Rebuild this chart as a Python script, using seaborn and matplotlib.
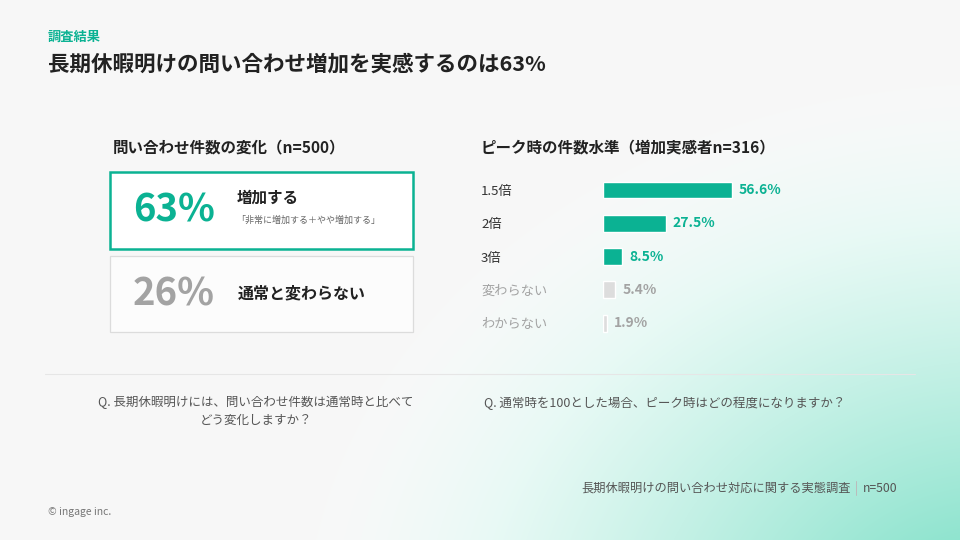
import numpy as np
import pandas as pd
import matplotlib
matplotlib.use('Agg')
import matplotlib.pyplot as plt
from matplotlib.patches import Rectangle
import seaborn as sns

# Data
levels = ['1.5倍', '2倍', '3倍', '変わらない', 'わからない']
shares = [56.6, 27.5, 8.5, 5.4, 1.9]
highlight = [True, True, True, False, False]

change_pct = ['63%', '26%']
change_label = ['増加する', '通常と変わらない']
change_note = '「非常に増加する＋やや増加する」'

TEAL = '#0bb293'
DARK = '#222222'
GRAY = '#a3a3a3'
LGRAY = '#dddddd'

sns.set_theme(style='white')
plt.rcParams['font.family'] = ['Noto Sans CJK JP', 'DejaVu Sans']

W, H = 960, 540
fig = plt.figure(figsize=(9.6, 5.4), dpi=100)

# background: light gray, white halo, teal glow at bottom right
bg = fig.add_axes([0, 0, 1, 1])
xx, yy = np.meshgrid(np.arange(W), np.arange(H))
d = np.sqrt(((xx - 1000) / 700.0) ** 2 + ((yy - 640) / 560.0) ** 2)
t = np.clip(1 - d, 0, 1) ** 1.35
s = np.clip(np.clip(1 - d, 0, 1) * 4, 0, 1)
base = np.array([0.972, 0.972, 0.972])
white = np.array([1.0, 1.0, 1.0])
glow = np.array([0.42, 0.86, 0.75])
img = base[None, None, :] * (1 - s[..., None]) + white[None, None, :] * s[..., None]
img = img * (1 - t[..., None]) + glow[None, None, :] * t[..., None]
bg.imshow(img, extent=[0, W, H, 0], aspect='auto', zorder=0)
bg.set_xlim(0, W)
bg.set_ylim(H, 0)
bg.axis('off')

# header
bg.text(48, 37, '調査結果', color=TEAL, fontsize=9.5, fontweight='bold', va='center')
bg.text(48, 64, '長期休暇明けの問い合わせ増加を実感するのは63%', color=DARK,
        fontsize=15.5, fontweight='bold', va='center')

# left panel
bg.text(113, 147, '問い合わせ件数の変化（n=500）', color=DARK, fontsize=11.2,
        fontweight='bold', va='center')
bg.add_patch(Rectangle((110, 172), 303, 77, facecolor='white', edgecolor=TEAL, lw=1.8, zorder=2))
bg.add_patch(Rectangle((110, 256), 303, 76, facecolor='#fcfcfc', edgecolor='#dcdcdc', lw=0.9, zorder=2))
bg.text(174, 210, change_pct[0], color=TEAL, fontsize=27.5, fontweight='bold',
        ha='center', va='center', zorder=3)
bg.text(174, 294, change_pct[1], color=GRAY, fontsize=27.5, fontweight='bold',
        ha='center', va='center', zorder=3)
bg.text(237, 198, change_label[0], color=DARK, fontsize=11.2, fontweight='bold', va='center', zorder=3)
bg.text(236, 220, change_note, color='#666666', fontsize=6.5, va='center', zorder=3)
bg.text(238, 293, change_label[1], color=DARK, fontsize=11.5, fontweight='bold', va='center', zorder=3)

# right panel
bg.text(481, 147, 'ピーク時の件数水準（増加実感者n=316）', color=DARK, fontsize=11.2,
        fontweight='bold', va='center')

row = 33.3
ax = fig.add_axes([603 / W, 1 - (190 - row / 2 + 5 * row) / H, 228 / W, 5 * row / H])
df = pd.DataFrame({'level': levels, 'share': shares})
bar_colors = [TEAL if h else LGRAY for h in highlight]
sns.barplot(data=df, y='level', x='share', hue='level', palette=bar_colors,
            legend=False, width=0.51, ax=ax, saturation=1)
ax.set_xlim(0, 100)
ax.set_ylim(4.5, -0.5)
ax.patch.set_alpha(0)
for sp in ax.spines.values():
    sp.set_visible(False)
ax.set_xticks([])
ax.set_xlabel('')
ax.set_ylabel('')
ax.tick_params(axis='y', length=0, pad=122 * 0.72)
for lab, h in zip(ax.get_yticklabels(), highlight):
    lab.set_ha('left')
    lab.set_fontsize(9.5)
    lab.set_color('#333333' if h else GRAY)
for i, (v, h) in enumerate(zip(shares, highlight)):
    ax.text(v + 3, i, f'{v}%', color=TEAL if h else GRAY, fontsize=10,
            fontweight='bold', va='center', ha='left')

# separator and questions
bg.plot([45, 915], [374, 374], color='#e6e6e6', lw=0.8)
bg.text(256, 411, 'Q. 長期休暇明けには、問い合わせ件数は通常時と比べて\nどう変化しますか？',
        color='#555555', fontsize=9, ha='center', va='center', linespacing=1.5)
bg.text(484, 403, 'Q. 通常時を100とした場合、ピーク時はどの程度になりますか？',
        color='#555555', fontsize=9, va='center')

# footer
bg.text(851, 488, '長期休暇明けの問い合わせ対応に関する実態調査', color='#555555',
        fontsize=8.8, ha='right', va='center')
bg.plot([856, 856], [481, 495], color='#bbbbbb', lw=0.7)
bg.text(897, 488, 'n=500', color='#555555', fontsize=8.8, ha='right', va='center')
bg.text(48, 512, '© ingage inc.', color='#777777', fontsize=7.5, va='center')

fig.savefig('out.png', dpi=100)
